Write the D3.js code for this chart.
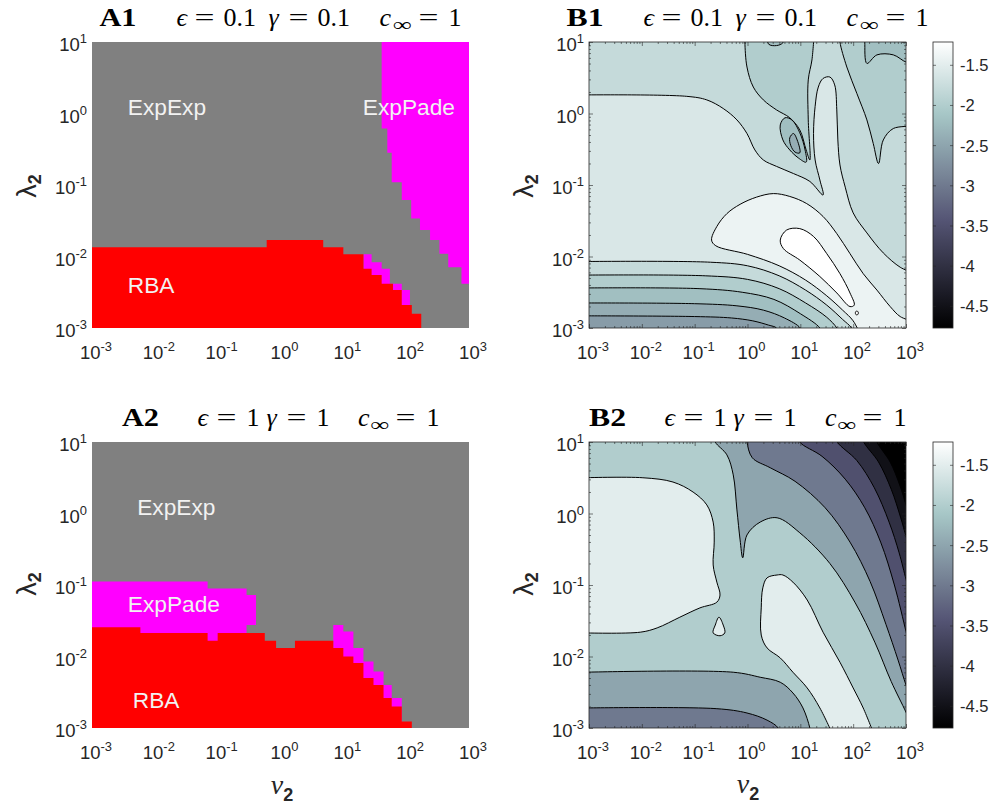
<!DOCTYPE html>
<html><head><meta charset="utf-8">
<script src="https://cdn.jsdelivr.net/npm/d3@7/dist/d3.min.js"></script>
<style>html,body{margin:0;padding:0;background:#fff;}</style>
</head><body>
<svg id="chart" width="995" height="809" xmlns="http://www.w3.org/2000/svg"></svg>
<script>
// ================= DATA (coordinates are [log10(nu2), log10(lambda2)]) =================
const xTickExps = [-3,-2,-1,0,1,2,3];
const yTickExps = [-3,-2,-1,0,1];
const cbTicks = [-1.5,-2,-2.5,-3,-3.5,-4,-4.5];
const cbRange = [-4.77,-1.21];
const catColors = {ExpExp:'#808080', RBA:'#ff0000', ExpPade:'#ff00ff'};

// ---- A1 region map (stair boundaries)
const A1_padeRight = [[1.61,1.3],[1.61,-0.21],[1.70,-0.21],[1.70,-0.55],[1.77,-0.55],[1.77,-0.96],[1.93,-0.96],[1.93,-1.21],[2.08,-1.21],[2.08,-1.47],[2.22,-1.47],[2.22,-1.63],[2.38,-1.63],[2.38,-1.77],[2.53,-1.77],[2.53,-1.96],[2.67,-1.96],[2.67,-2.15],[2.88,-2.15],[2.88,-2.38],[3.3,-2.38],[3.3,1.3]];
const A1_padeStrip = [[1.32,-1.97],[1.45,-1.97],[1.45,-2.08],[1.61,-2.08],[1.61,-2.17],[1.74,-2.17],[1.74,-2.38],[1.93,-2.38],[1.93,-2.47],[2.06,-2.47],[2.06,-2.68],[2.06,-3.3],[1.32,-3.3]];
const A1_rba = [[-3.3,-3.3],[-3.3,-1.87],[-0.22,-1.87],[-0.22,-1.77],[0.68,-1.77],[0.68,-1.87],[1.0,-1.87],[1.0,-1.97],[1.32,-1.97],[1.32,-2.17],[1.45,-2.17],[1.45,-2.26],[1.61,-2.26],[1.61,-2.38],[1.79,-2.38],[1.79,-2.47],[1.93,-2.47],[1.93,-2.68],[2.09,-2.68],[2.09,-2.80],[2.24,-2.80],[2.24,-3.3]];
const A1_labels = [['ExpExp',-2.43,-0.02],['ExpPade',1.31,-0.02],['RBA',-2.43,-2.51]];

// ---- A2 region map
const A2_padeBlock = [[-3.3,-0.95],[-1.16,-0.95],[-1.16,-1.05],[-0.54,-1.05],[-0.54,-1.14],[-0.39,-1.14],[-0.39,-1.56],[-0.54,-1.56],[-0.54,-1.9],[-3.3,-1.9]];
const A2_padeStrip = [[0.84,-1.56],[1.0,-1.56],[1.0,-1.65],[1.16,-1.65],[1.16,-1.88],[1.32,-1.88],[1.32,-2.07],[1.48,-2.07],[1.48,-2.21],[1.64,-2.21],[1.64,-2.40],[1.77,-2.40],[1.77,-2.58],[1.93,-2.58],[1.93,-3.3],[0.84,-3.3]];
const A2_rba = [[-3.3,-3.3],[-3.3,-1.59],[-2.23,-1.59],[-2.23,-1.67],[-1.16,-1.67],[-1.16,-1.78],[-1.0,-1.78],[-1.0,-1.67],[-0.25,-1.67],[-0.25,-1.78],[-0.07,-1.78],[-0.07,-1.88],[0.23,-1.88],[0.23,-1.78],[0.84,-1.78],[0.84,-1.88],[1.0,-1.88],[1.0,-2.0],[1.16,-2.0],[1.16,-2.09],[1.32,-2.09],[1.32,-2.30],[1.48,-2.30],[1.48,-2.40],[1.64,-2.40],[1.64,-2.58],[1.77,-2.58],[1.77,-2.70],[1.93,-2.70],[1.93,-2.91],[2.09,-2.91],[2.09,-3.3]];
const A2_labels = [['ExpExp',-2.28,-0.02],['ExpPade',-2.43,-1.38],['RBA',-2.35,-2.72]];

// ---- B1 contour lines (first number of each region = band colour level)
const B1_bg = -1.6;
const B1_lineTop = [[-3.1,0.26],[-1.15,0.24],[-0.77,0.19],[-0.46,0.07],[-0.20,-0.09],[-0.01,-0.28],[0.14,-0.51],[0.30,-0.65],[0.55,-0.74],[0.87,-0.84],[1.18,-0.95],[1.43,-1.14],[1.37,-0.93],[1.28,-0.65],[1.25,-0.28],[1.28,0.10],[1.34,0.37],[1.43,0.49],[1.56,0.51],[1.65,0.40],[1.69,0.05],[1.71,-0.37],[1.75,-0.72],[1.85,-1.03],[2.00,-1.39],[2.26,-1.67],[2.57,-1.95],[2.89,-2.15],[3.1,-2.22]];
const B1_midDark = [[-0.05,1.1],[-0.05,1.0],[-0.01,0.65],[0.11,0.37],[0.30,0.19],[0.55,0.05],[0.80,-0.06],[0.99,-0.23],[1.11,-0.51],[1.18,-0.65],[1.15,-0.09],[1.15,0.47],[1.22,0.75],[1.26,1.1]];
const B1_blobOuter = [[0.62,-0.16],[0.71,-0.06],[0.84,-0.09],[0.99,-0.27],[1.09,-0.51],[1.11,-0.68],[0.96,-0.62],[0.80,-0.51],[0.67,-0.37]];
const B1_blobInner = [[0.80,-0.34],[0.87,-0.28],[0.94,-0.37],[0.99,-0.55],[0.90,-0.54],[0.82,-0.45]];
const B1_topLoop = [[0.37,1.1],[0.40,0.97],[0.55,0.95],[0.67,0.99],[0.70,1.1]];
const B1_rightDark = [[1.75,1.1],[1.75,1.0],[1.88,0.65],[2.07,0.28],[2.26,-0.09],[2.38,-0.42],[2.48,-0.70],[2.57,-0.37],[2.76,-0.21],[3.1,-0.18]];
const B1_rightDarker = [[2.22,1.1],[2.22,1.0],[2.26,0.70],[2.45,0.82],[2.76,0.82],[3.0,0.72],[3.1,0.72]];
const B1_light = [[2.14,-3.1],[2.0,-2.9],[1.8,-2.75],[1.5,-2.55],[1.1,-2.33],[0.6,-2.13],[0.0,-1.97],[-0.6,-1.85],[-0.68,-1.77],[-0.58,-1.58],[-0.39,-1.40],[-0.14,-1.27],[0.17,-1.17],[0.49,-1.12],[0.80,-1.16],[1.12,-1.26],[1.43,-1.44],[1.69,-1.68],[1.94,-1.96],[2.19,-2.24],[2.45,-2.47],[2.70,-2.70],[2.89,-2.84],[3.1,-2.9]];
const B1_white = [[0.62,-1.77],[0.74,-1.63],[0.99,-1.61],[1.25,-1.72],[1.50,-1.96],[1.75,-2.24],[1.94,-2.51],[2.02,-2.68],[1.94,-2.70],[1.69,-2.51],[1.37,-2.28],[0.99,-2.05],[0.68,-1.89]];
const B1_dot = [[2.07,-2.76],[2.10,-2.79],[2.07,-2.82],[2.04,-2.79]];
const B1_band1 = [[-3.1,-2.07],[-0.7,-2.08],[0.0,-2.13],[0.6,-2.27],[1.1,-2.47],[1.5,-2.68],[1.8,-2.88],[1.97,-3.0],[2.02,-3.1]];
const B1_band2 = [[-3.1,-2.26],[-0.8,-2.27],[0.0,-2.32],[0.6,-2.45],[1.1,-2.65],[1.5,-2.85],[1.69,-3.0],[1.74,-3.1]];
const B1_band3 = [[-3.1,-2.44],[-0.9,-2.45],[-0.1,-2.5],[0.5,-2.6],[1.0,-2.8],[1.37,-3.0],[1.42,-3.1]];
const B1_band4 = [[-3.1,-2.65],[-1.0,-2.66],[-0.2,-2.69],[0.3,-2.75],[0.7,-2.86],[1.0,-3.0],[1.05,-3.1]];
const B1_band5 = [[-3.1,-2.83],[-1.0,-2.84],[-0.3,-2.86],[0.1,-2.9],[0.4,-2.96],[0.55,-3.0],[0.6,-3.1]];

// ---- B2 contour lines
const B2_bg = -2.0;
const B2_notch = [[-0.63,1.1],[-0.61,1.0],[-0.39,0.82],[-0.27,0.54],[-0.20,0.05],[-0.14,-0.37],[-0.09,-0.62],[-0.01,-0.30],[0.24,-0.12],[0.56,-0.06],[0.99,-0.27],[1.56,-0.70],[2.04,-1.25],[2.41,-1.80],[2.72,-2.35],[3.0,-2.78],[3.1,-2.95]];
const B2_l3 = [[-0.02,1.1],[-0.01,1.0],[0.09,0.78],[0.43,0.64],[0.90,0.45],[1.47,0.08],[1.94,-0.40],[2.32,-0.95],[2.62,-1.55],[2.85,-2.05],[3.0,-2.40],[3.1,-2.6]];
const B2_l35 = [[0.97,1.1],[0.99,1.0],[1.41,0.80],[1.85,0.48],[2.22,0.08],[2.52,-0.40],[2.78,-1.00],[3.0,-1.65],[3.05,-1.8]];
const B2_l4 = [[1.67,1.1],[1.70,1.0],[2.07,0.74],[2.40,0.36],[2.68,-0.12],[2.87,-0.55],[3.0,-0.92],[3.05,-1.05]];
const B2_l45 = [[2.17,1.1],[2.20,1.0],[2.48,0.72],[2.72,0.34],[2.90,-0.06],[3.0,-0.32],[3.05,-0.45]];
const B2_lmin = [[2.42,1.1],[2.45,1.0],[2.70,0.72],[2.88,0.40],[3.0,0.12],[3.05,0.0]];
const B2_bot1 = [[-3.1,-2.22],[-0.27,-2.22],[0.24,-2.29],[0.62,-2.36],[0.86,-2.51],[1.05,-2.72],[1.18,-3.0],[1.2,-3.1]];
const B2_bot2 = [[-3.1,-2.72],[-0.58,-2.73],[-0.01,-2.79],[0.37,-2.89],[0.58,-3.0],[0.6,-3.1]];
const B2_blobL = [[-3.1,0.50],[-1.98,0.50],[-1.41,0.44],[-1.03,0.30],[-0.77,0.12],[-0.65,-0.12],[-0.63,-0.40],[-0.65,-0.72],[-0.58,-0.96],[-0.52,-1.14],[-0.58,-1.24],[-0.90,-1.32],[-1.28,-1.45],[-1.71,-1.60],[-2.03,-1.66],[-3.1,-1.67]];
const B2_blobS = [[-0.54,-1.45],[-0.46,-1.56],[-0.43,-1.67],[-0.52,-1.71],[-0.65,-1.67],[-0.61,-1.56]];
const B2_blobR = [[1.62,-3.1],[1.37,-2.72],[1.13,-2.44],[0.86,-2.22],[0.62,-2.02],[0.37,-1.88],[0.26,-1.70],[0.26,-1.32],[0.29,-1.04],[0.37,-0.90],[0.56,-0.86],[0.67,-0.86],[0.86,-0.96],[1.13,-1.21],[1.43,-1.66],[1.75,-2.08],[2.00,-2.44],[2.19,-2.72],[2.40,-3.1]];

// ---- titles: [tag, epsilon, gamma, c_inf]
const titleData = {A1:['A1','0.1','0.1','1'], B1:['B1','0.1','0.1','1'], A2:['A2','1','1','1'], B2:['B2','1','1','1']};

// ================= RENDERING =================
const svg = d3.select('#chart');
const layout = {A1:[92,469,42,328], B1:[589,906,42,328], A2:[92,469,442,728], B2:[589,906,442,728]};
const cbX = [933,953];
const axisCol = '#262626';
const sansF = "'Liberation Sans', Arial, Helvetica, sans-serif";
const serifF = "'Liberation Serif', 'DejaVu Serif', serif";

function bone(t){
  t = Math.max(0, Math.min(1, t));
  const c = v => Math.max(0, Math.min(1, v));
  const r = (7*t + c(4*(t-0.75)))/8, g = (7*t + c(8/3*(t-0.375)))/8, b = (7*t + c(8/3*t))/8;
  return d3.rgb(r*255, g*255, b*255).formatHex();
}
const cNorm = d3.scaleLinear().domain(cbRange).range([0,1]);
const colorOf = v => bone(cNorm(v));

function scales(L){
  const xs = d3.scaleLog().domain([1e-3,1e3]).range([L[0],L[1]]);
  const ys = d3.scaleLog().domain([1e-3,1e1]).range([L[3],L[2]]);
  return {xs, ys, P: d => [xs(Math.pow(10,d[0])), ys(Math.pow(10,d[1]))]};
}
let clipN = 0;
function clipFor(L){
  const id = 'clip'+(clipN++);
  svg.append('clipPath').attr('id', id).append('rect')
    .attr('x', L[0]).attr('y', L[2]).attr('width', L[1]-L[0]).attr('height', L[3]-L[2]);
  return `url(#${id})`;
}
function powLabel(g, x, y, exp, anchor, fs){
  const t = g.append('text').attr('x', x).attr('y', y).attr('text-anchor', anchor)
    .attr('font-family', sansF).attr('font-size', fs).attr('fill', axisCol);
  t.append('tspan').text('10');
  t.append('tspan').attr('dy', -8).attr('font-size', fs*0.7).text(exp);
}
function tickLabels(L, S){
  const g = svg.append('g');
  xTickExps.forEach(e => powLabel(g, S.xs(Math.pow(10,e)) + 4, L[3] + 31, e, 'middle', 18.5));
  yTickExps.forEach(e => powLabel(g, L[0] - 5, S.ys(Math.pow(10,e)) + 9, e, 'end', 18.5));
}
function minorVals(lo, hi){
  const v = [];
  for (let e = lo; e < hi; e++) for (let k = 2; k <= 9; k++) v.push(k*Math.pow(10,e));
  return v;
}
function boxTicks(L, S){
  const g = svg.append('g');
  const majX = xTickExps.map(e => Math.pow(10,e)), majY = yTickExps.map(e => Math.pow(10,e));
  const mk = (axis, tr) => {
    const a = g.append('g').attr('transform', tr).call(axis);
    a.select('.domain').remove();
    a.selectAll('line').attr('stroke', axisCol).attr('stroke-width', 0.6);
    a.selectAll('text').remove();
  };
  mk(d3.axisBottom(S.xs).tickValues(majX).tickSize(-4), `translate(0,${L[3]})`);
  mk(d3.axisTop(S.xs).tickValues(majX).tickSize(-4), `translate(0,${L[2]})`);
  mk(d3.axisBottom(S.xs).tickValues(minorVals(-3,3)).tickSize(-2), `translate(0,${L[3]})`);
  mk(d3.axisTop(S.xs).tickValues(minorVals(-3,3)).tickSize(-2), `translate(0,${L[2]})`);
  mk(d3.axisLeft(S.ys).tickValues(majY).tickSize(-4), `translate(${L[0]},0)`);
  mk(d3.axisRight(S.ys).tickValues(majY).tickSize(-4), `translate(${L[1]},0)`);
  mk(d3.axisLeft(S.ys).tickValues(minorVals(-3,1)).tickSize(-2), `translate(${L[0]},0)`);
  mk(d3.axisRight(S.ys).tickValues(minorVals(-3,1)).tickSize(-2), `translate(${L[1]},0)`);
  g.append('rect').attr('x', L[0]).attr('y', L[2]).attr('width', L[1]-L[0]).attr('height', L[3]-L[2])
    .attr('fill', 'none').attr('stroke', axisCol).attr('stroke-width', 0.8);
}

function drawCategory(key, bgCat, polys, labels){
  const L = layout[key], S = scales(L);
  const g = svg.append('g').attr('clip-path', clipFor(L));
  g.append('rect').attr('x', L[0]).attr('y', L[2]).attr('width', L[1]-L[0]).attr('height', L[3]-L[2])
    .attr('fill', catColors[bgCat]);
  const line = d3.line().curve(d3.curveLinearClosed);
  polys.forEach(([cat, pts]) => g.append('path').attr('d', line(pts.map(S.P))).attr('fill', catColors[cat]));
  labels.forEach(([t, lx, ly]) => {
    const p = S.P([lx, ly]);
    svg.append('text').attr('x', p[0]).attr('y', p[1]).attr('font-family', sansF)
      .attr('font-size', 22.7).attr('fill', '#f2f2f2').text(t);
  });
  tickLabels(L, S);
}

// region: [value, linePoints, closurePoints|null]  (null => closed blob)
function drawContour(key, bgVal, regions){
  const L = layout[key], S = scales(L);
  const g = svg.append('g').attr('clip-path', clipFor(L));
  g.append('rect').attr('x', L[0]).attr('y', L[2]).attr('width', L[1]-L[0]).attr('height', L[3]-L[2])
    .attr('fill', colorOf(bgVal));
  const open = d3.line().curve(d3.curveCatmullRom.alpha(0.5));
  const closed = d3.line().curve(d3.curveCatmullRomClosed.alpha(0.5));
  regions.forEach(([v, pts, close]) => {
    const pp = pts.map(S.P);
    let dFill, dLine;
    if (close) {
      dLine = open(pp);
      dFill = dLine + close.map(S.P).map(q => `L${q[0]},${q[1]}`).join('') + 'Z';
    } else {
      dLine = closed(pp); dFill = dLine;
    }
    g.append('path').attr('d', dFill).attr('fill', colorOf(v));
    g.append('path').attr('d', dLine).attr('fill', 'none').attr('stroke', '#000').attr('stroke-width', 1);
  });
  boxTicks(L, S);
  tickLabels(L, S);
  // colorbar
  const cy = d3.scaleLinear().domain(cbRange).range([L[3], L[2]]);
  const gid = 'grad' + key;
  const grad = svg.append('defs').append('linearGradient').attr('id', gid)
    .attr('x1', 0).attr('y1', 1).attr('x2', 0).attr('y2', 0);
  d3.range(0, 1.0001, 1/32).forEach(t => grad.append('stop').attr('offset', t).attr('stop-color', bone(t)));
  svg.append('rect').attr('x', cbX[0]).attr('y', L[2]).attr('width', cbX[1]-cbX[0]).attr('height', L[3]-L[2])
    .attr('fill', `url(#${gid})`).attr('stroke', axisCol).attr('stroke-width', 0.8);
  cbTicks.forEach(v => {
    const y = cy(v);
    svg.append('line').attr('x1', cbX[0]).attr('x2', cbX[0]+3).attr('y1', y).attr('y2', y).attr('stroke', axisCol).attr('stroke-width', 0.6);
    svg.append('line').attr('x1', cbX[1]-3).attr('x2', cbX[1]).attr('y1', y).attr('y2', y).attr('stroke', axisCol).attr('stroke-width', 0.6);
    svg.append('text').attr('x', cbX[1]+7).attr('y', y+6).attr('font-family', sansF).attr('font-size', 16.5)
      .attr('fill', axisCol).text(d3.format('.1~f')(v).replace('\u2212','-'));
  });
}

const topOut = (x0, yEnd) => [[3.3, yEnd],[3.3,1.3],[x0,1.3]];
const botOut = (xEnd) => [[xEnd,-3.3],[-3.3,-3.3]];

// ---- draw panels
drawCategory('A1', 'ExpExp', [['ExpPade', A1_padeRight], ['ExpPade', A1_padeStrip], ['RBA', A1_rba]], A1_labels);
drawCategory('A2', 'ExpExp', [['ExpPade', A2_padeBlock], ['ExpPade', A2_padeStrip], ['RBA', A2_rba]], A2_labels);

drawContour('B1', B1_bg, [
  [-1.8, B1_lineTop, [[3.3,-2.22],[3.3,1.3],[-3.3,1.3],[-3.3,0.26]]],
  [-2.0, B1_midDark, [[1.26,1.3],[-0.05,1.3]]],
  [-2.2, B1_blobOuter, null],
  [-2.4, B1_blobInner, null],
  [-2.2, B1_topLoop, [[0.70,1.3],[0.37,1.3]]],
  [-2.0, B1_rightDark, [[3.3,-0.18],[3.3,1.3],[1.75,1.3]]],
  [-2.2, B1_rightDarker, [[3.3,0.72],[3.3,1.3],[2.22,1.3]]],
  [-1.4, B1_light, [[3.3,-2.9],[3.3,-3.3],[2.14,-3.3]]],
  [-1.2, B1_white, null],
  [-1.2, B1_dot, null],
  [-1.8, B1_band1, botOut(2.02)],
  [-2.0, B1_band2, botOut(1.74)],
  [-2.2, B1_band3, botOut(1.42)],
  [-2.4, B1_band4, botOut(1.05)],
  [-2.6, B1_band5, botOut(0.6)]
]);
drawContour('B2', B2_bg, [
  [-2.5, B2_notch, topOut(-0.63, -2.95)],
  [-3.0, B2_l3, topOut(-0.02, -2.6)],
  [-3.5, B2_l35, topOut(0.97, -1.8)],
  [-4.0, B2_l4, topOut(1.67, -1.05)],
  [-4.5, B2_l45, topOut(2.17, -0.45)],
  [cbRange[0], B2_lmin, topOut(2.42, 0.0)],
  [-2.5, B2_bot1, botOut(1.2)],
  [-3.0, B2_bot2, botOut(0.6)],
  [-1.5, B2_blobL, [[-3.3,-1.67],[-3.3,0.5]]],
  [-1.5, B2_blobS, null],
  [-1.5, B2_blobR, [[2.40,-3.3],[1.62,-3.3]]]
]);

// ---- titles (token offsets from panel centre, px)
const tokOff01 = [-181,-104,-86,-57,-12,8,37,99,112,138,168];
const tokOff1  = [-158.5,-83,-64,-34,-14,6,36,77.5,89.5,115,146];
Object.keys(titleData).forEach(key => {
  const [tag, eps, gam, cinf] = titleData[key];
  const L = layout[key], cx = (L[0]+L[1])/2, by = L[2] - 16;
  const off = eps === '1' ? tokOff1 : tokOff01;
  const toks = [
    [tag, 'bold', 37], ['\u03F5','italic'], ['=','eq', 20], [eps,''], ['\u03B3','italic'], ['=','eq', 20],
    [gam,''], ['c','italic'], ['\u221E','sub', 19], ['=','eq', 20], [cinf,'']
  ];
  toks.forEach(([s, st, len], i) => {
    const t = svg.append('text').attr('x', cx + off[i]).attr('y', st === 'sub' ? by + 5 : by)
      .attr('font-family', serifF).attr('font-size', st === 'sub' ? 19 : 26).attr('fill', '#000').text(s);
    if (st === 'bold') t.attr('font-weight', 'bold');
    if (st === 'italic') t.attr('font-style', 'italic');
    if (len) t.attr('textLength', len).attr('lengthAdjust', 'spacingAndGlyphs');
  });
});

// ---- axis labels
function yLabel(cx, cy){
  const t = svg.append('text').attr('transform', `translate(${cx},${cy}) rotate(-90)`).attr('text-anchor', 'middle')
    .attr('font-family', sansF).attr('font-size', 27).attr('fill', axisCol);
  t.append('tspan').text('\u03BB');
  t.append('tspan').attr('dy', 5).attr('font-size', 18).attr('font-weight', 'bold').text('2');
}
function xLabel(cx, cy){
  const t = svg.append('text').attr('x', cx).attr('y', cy).attr('text-anchor', 'middle')
    .attr('font-family', serifF).attr('font-size', 28).attr('font-style', 'italic').attr('fill', axisCol);
  t.append('tspan').text('\u03BD');
  t.append('tspan').attr('dy', 7).attr('font-size', 18).attr('font-weight', 'bold').attr('font-style', 'normal')
    .attr('font-family', sansF).text('2');
}
yLabel(36, 186); yLabel(533, 186); yLabel(36, 584); yLabel(533, 584);
xLabel(282, 794); xLabel(748, 793);
</script>
</body></html>
